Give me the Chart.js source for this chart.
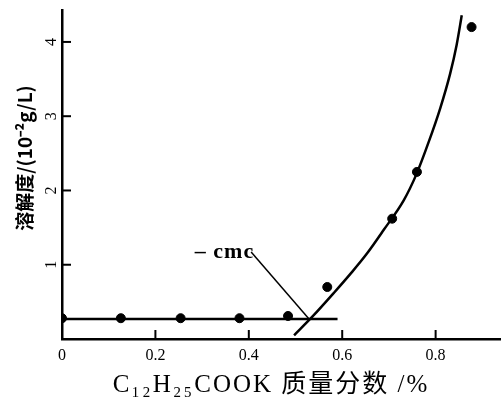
<!DOCTYPE html>
<html>
<head>
<meta charset="utf-8">
<script src="https://cdn.jsdelivr.net/npm/chart.js@4/dist/chart.umd.min.js"></script>
<style>
  html, body { margin: 0; padding: 0; background: #fff; }
  #wrap { width: 501px; height: 400px; }
</style>
</head>
<body>
<div id="wrap"><canvas id="solChart"></canvas></div>
<script>
// measured points (mass fraction %, solubility)
const massFrac = [0, 0.126, 0.254, 0.38, 0.484, 0.568, 0.707, 0.760, 0.877];
const solubility = [0.28, 0.28, 0.28, 0.28, 0.31, 0.70, 1.62, 2.25, 4.2];

// fitted curve above cmc
const curveX = [0.497, 0.536, 0.582, 0.618, 0.653, 0.689, 0.732, 0.759, 0.785, 0.810, 0.831, 0.845, 0.856];
const curveY = [0.05, 0.30, 0.62, 0.88, 1.15, 1.47, 1.87, 2.22, 2.65, 3.11, 3.57, 3.96, 4.36];

// flat line below cmc
const flatX = [0, 0.59];
const flatY = [0.27, 0.27];

// cmc pointer
const cmcX = [0.405, 0.529];
const cmcY = [1.17, 0.27];
const cmcLabel = "– cmc";

const xTicks = [0, 0.2, 0.4, 0.6, 0.8];
const yTicks = [1, 2, 3, 4];
const xTitle = "C₁₂H₂₅COOK 质量分数 /%";
const yTitle = "溶解度/(10⁻²g/L)";

const pts = (xs, ys) => xs.map((x, i) => ({ x: x, y: ys[i] }));

const serif = "'Liberation Serif', 'Noto Sans CJK SC', serif";

const extras = {
    id: "extras",
    afterDraw(chart) {
        const c = chart.ctx, xs = chart.scales.x, ys = chart.scales.y;
        const a = chart.chartArea;
        c.save();
        c.strokeStyle = "#000";
        c.lineWidth = 2;
        // inward tick marks
        xTicks.forEach(v => {
            if (v === 0) return;
            const px = xs.getPixelForValue(v);
            c.beginPath(); c.moveTo(px, a.bottom); c.lineTo(px, a.bottom - 9); c.stroke();
        });
        yTicks.forEach(v => {
            const py = ys.getPixelForValue(v);
            c.beginPath(); c.moveTo(a.left, py); c.lineTo(a.left + 9, py); c.stroke();
        });
        c.fillStyle = "#000";
        c.textBaseline = "middle";
        // cmc label
        c.font = "bold 22px " + serif;
        c.letterSpacing = "1px";
        c.textAlign = "right";
        c.fillText(cmcLabel, xs.getPixelForValue(cmcX[0]) + 3, ys.getPixelForValue(cmcY[0]));
        // x title
        c.textAlign = "center";
        c.font = "25px " + serif;
        c.letterSpacing = "2px";
        c.fillText(xTitle, 271, 385);
        // y title
        c.letterSpacing = "0px";
        c.translate(25, 158);
        c.rotate(-Math.PI / 2);
        c.font = "bold 19px 'Noto Sans CJK SC', sans-serif";
        c.fillText(yTitle, 0, 0);
        c.restore();
    }
};

new Chart(document.getElementById("solChart"), {
    type: "scatter",
    data: {
        datasets: [
            {
                data: pts(massFrac, solubility),
                backgroundColor: "#000",
                borderColor: "#000",
                pointRadius: 4.5
            },
            {
                type: "line",
                data: pts(curveX, curveY),
                borderColor: "#000",
                borderWidth: 2.5,
                pointRadius: 0,
                cubicInterpolationMode: "monotone",
                clip: false
            },
            {
                type: "line",
                data: pts(flatX, flatY),
                borderColor: "#000",
                borderWidth: 2.5,
                pointRadius: 0
            },
            {
                type: "line",
                data: pts(cmcX, cmcY),
                borderColor: "#000",
                borderWidth: 1.5,
                pointRadius: 0
            }
        ]
    },
    options: {
        responsive: true,
        maintainAspectRatio: false,
        animation: false,
        layout: { autoPadding: false, padding: { top: 10, right: 0, left: 0, bottom: 0 } },
        plugins: { legend: { display: false }, tooltip: { enabled: false } },
        scales: {
            x: {
                type: "linear",
                min: 0,
                max: 0.94,
                afterBuildTicks: s => { s.ticks = xTicks.map(v => ({ value: v })); },
                afterFit: s => { s.height = 61; s.paddingLeft = 0; s.paddingRight = 0; },
                grid: { display: false, tickLength: 0 },
                border: { display: true, color: "#000", width: 2.5 },
                ticks: {
                    color: "#000",
                    padding: 7,
                    maxRotation: 0,
                    font: { family: serif, size: 16 }
                }
            },
            y: {
                type: "linear",
                min: 0,
                max: 4.43,
                afterBuildTicks: s => { s.ticks = yTicks.map(v => ({ value: v })); },
                afterFit: s => { s.width = 62; s.paddingTop = 0; s.paddingBottom = 0; },
                grid: { display: false, tickLength: 0 },
                border: { display: true, color: "#000", width: 2.5 },
                ticks: {
                    color: "#000",
                    padding: 6,
                    minRotation: 90,
                    maxRotation: 90,
                    crossAlign: "center",
                    font: { family: serif, size: 16 }
                }
            }
        }
    },
    plugins: [extras]
});
</script>
</body>
</html>
